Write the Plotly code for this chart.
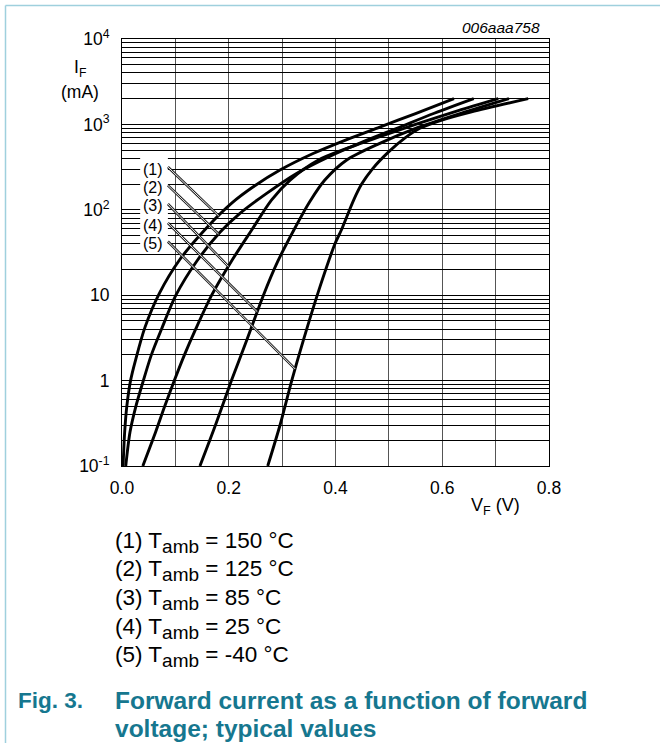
import numpy as np
import plotly.graph_objects as go

# ---------------- data ----------------
# forward voltage (V) / forward current (mA) per curve
V_150 = [0.002, 0.005, 0.009, 0.016, 0.026, 0.043, 0.070, 0.108, 0.160, 0.205, 0.246, 0.296, 0.358, 0.420, 0.483, 0.550, 0.622]
I_150 = [0.1, 0.25, 0.5, 1.0, 1.8, 4.2, 10.5, 26, 63, 119, 186, 292, 456, 660, 930, 1340, 2000]

V_125 = [0.007, 0.015, 0.026, 0.040, 0.055, 0.074, 0.101, 0.140, 0.184, 0.221, 0.271, 0.327, 0.388, 0.450, 0.515, 0.585, 0.659]
I_125 = [0.1, 0.25, 0.5, 1.0, 2.0, 4.0, 10, 25, 55, 91, 156, 267, 420, 620, 900, 1350, 2000]

V_85 = [0.039, 0.063, 0.080, 0.098, 0.117, 0.138, 0.168, 0.205, 0.243, 0.280, 0.315, 0.368, 0.420, 0.483, 0.550, 0.630, 0.705]
I_85 = [0.1, 0.25, 0.5, 1.0, 2.0, 4.0, 10, 25, 58, 130, 223, 383, 520, 718, 1000, 1450, 2000]

V_25 = [0.146, 0.175, 0.205, 0.234, 0.265, 0.292, 0.322, 0.352, 0.380, 0.421, 0.483, 0.550, 0.635, 0.725]
I_25 = [0.1, 0.3, 1.0, 3.0, 10, 25, 58, 125, 223, 383, 600, 900, 1350, 2000]

V_m40 = [0.273, 0.296, 0.318, 0.340, 0.371, 0.399, 0.411, 0.434, 0.449, 0.469, 0.500, 0.531, 0.558, 0.595, 0.655, 0.761]
I_m40 = [0.1, 0.3, 1.0, 3.0, 12.6, 40, 58, 130, 200, 300, 480, 700, 900, 1100, 1400, 2000]

curve_V = [V_150, V_125, V_85, V_25, V_m40]
curve_I = [I_150, I_125, I_85, I_25, I_m40]
curve_labels = ["(1)", "(2)", "(3)", "(4)", "(5)"]
temps = ["150", "125", "85", "25", "-40"]

# label positions (V, mA) and the current where each leader meets its curve
label_V = 0.058
label_I = [300, 183, 111, 66, 40]
leader_start_V = 0.086
leader_start_I = [317, 193, 117, 70, 42.5]
leader_end_I = [85, 52, 21.7, 6.4, 1.37]
label_box_V = [0.034, 0.086]
label_box_I = [30.4, 427]

x_tick_vals = [0.0, 0.1, 0.2, 0.3, 0.4, 0.5, 0.6, 0.7, 0.8]
x_tick_text = ["0.0", "", "0.2", "", "0.4", "", "0.6", "", "0.8"]
y_decades = [-1, 0, 1, 2, 3, 4]
y_decade_text = ["10<sup>-1</sup>", "1", "10", "10<sup>2</sup>", "10<sup>3</sup>", "10<sup>4</sup>"]

# ---------------- figure ----------------
W, H = 660, 743
L, R, T, B = 122, 111, 39, 277
PW, PH = W - L - R, H - T - B
FONT = "Liberation Sans, Arial, sans-serif"
TEAL = "#16778f"

def px(x):  # pixel x -> paper
    return (x - L) / PW

def py(y):  # pixel y -> paper
    return (H - B - y) / PH

fig = go.Figure()

for V, I in zip(curve_V, curve_I):
    fig.add_trace(go.Scatter(x=V, y=I, mode="lines",
                             line=dict(color="black", width=2.9, shape="spline", smoothing=0.8),
                             hoverinfo="skip", showlegend=False))

# leader lines (double thin line look)
for k in range(5):
    lv = np.log10(curve_I[k])
    end_V = float(np.interp(np.log10(leader_end_I[k]), lv, curve_V[k]))
    xs = [leader_start_V, end_V]
    ys = [leader_start_I[k], leader_end_I[k]]
    fig.add_trace(go.Scatter(x=xs, y=ys, mode="lines", line=dict(color="#222", width=2.6),
                             hoverinfo="skip", showlegend=False))
    fig.add_trace(go.Scatter(x=xs, y=ys, mode="lines", line=dict(color="white", width=0.9),
                             hoverinfo="skip", showlegend=False))

y_tick_vals = []
y_tick_text = []
for d, t in zip(y_decades, y_decade_text):
    y_tick_vals.append(10.0 ** d)
    y_tick_text.append(t)
    if d < 4:
        for m in range(2, 10):
            y_tick_vals.append(m * 10.0 ** d)
            y_tick_text.append("")

fig.update_xaxes(range=[0, 0.8], tickvals=x_tick_vals, ticktext=x_tick_text,
                 showgrid=True, gridcolor="#555", gridwidth=1,
                 showline=True, linecolor="black", linewidth=1, mirror=True,
                 ticks="outside", ticklen=6, tickcolor="rgba(0,0,0,0)",
                 tickfont=dict(family=FONT, size=17.5, color="black"), zeroline=False)
fig.update_yaxes(type="log", range=[-1, 4], tickvals=y_tick_vals, ticktext=y_tick_text,
                 showgrid=True, gridcolor="black", gridwidth=1,
                 showline=True, linecolor="black", linewidth=1, mirror=True,
                 ticks="outside", ticklen=8, tickcolor="rgba(0,0,0,0)",
                 tickfont=dict(family=FONT, size=17.5, color="black"), zeroline=False)

shapes = []
# white box behind curve labels (between grid and traces)
shapes.append(dict(type="rect", xref="x", yref="y", x0=label_box_V[0], x1=label_box_V[1],
                   y0=label_box_I[0], y1=label_box_I[1], fillcolor="white",
                   line=dict(width=0), layer="between"))
# light blue frame
shapes.append(dict(type="line", xref="paper", yref="paper", x0=px(5.5), x1=px(660), y0=py(5.5), y1=py(5.5),
                   line=dict(color="#9fd0dd", width=1.5)))
shapes.append(dict(type="line", xref="paper", yref="paper", x0=px(5.5), x1=px(5.5), y0=py(5.5), y1=py(743),
                   line=dict(color="#9fd0dd", width=1.5)))

ann = []
for k in range(5):
    ann.append(dict(x=label_V, y=np.log10(label_I[k]), xref="x", yref="y", text=curve_labels[k],
                    showarrow=False, font=dict(family=FONT, size=16, color="black"),
                    xanchor="center", yanchor="middle"))

ann.append(dict(x=px(541.5), y=py(28), xref="paper", yref="paper", text="<i>006aaa758</i>",
                showarrow=False, xanchor="right", yanchor="middle",
                font=dict(family=FONT, size=15.5, color="black")))
ann.append(dict(x=px(80), y=py(69), xref="paper", yref="paper", text="I<sub>F</sub>",
                showarrow=False, xanchor="center", yanchor="middle",
                font=dict(family=FONT, size=17.5, color="black")))
ann.append(dict(x=px(80), y=py(92), xref="paper", yref="paper", text="(mA)",
                showarrow=False, xanchor="center", yanchor="middle",
                font=dict(family=FONT, size=17.5, color="black")))
ann.append(dict(x=px(495.5), y=py(506), xref="paper", yref="paper", text="V<sub>F</sub> (V)",
                showarrow=False, xanchor="center", yanchor="middle",
                font=dict(family=FONT, size=18, color="black")))

for k in range(5):
    ann.append(dict(x=px(113), y=py(542 + 28.7 * k), xref="paper", yref="paper",
                    text=f"{curve_labels[k]} T<sub><span style='font-size:19px'>amb</span></sub> = {temps[k]} °C",
                    showarrow=False, xanchor="left", yanchor="middle",
                    font=dict(family=FONT, size=22.5, color="black")))

ann.append(dict(x=px(16), y=py(700), xref="paper", yref="paper", text="<b>Fig. 3.</b>",
                showarrow=False, xanchor="left", yanchor="middle",
                font=dict(family=FONT, size=22.5, color=TEAL)))
ann.append(dict(x=px(113), y=py(700), xref="paper", yref="paper",
                text="<b>Forward current as a function of forward</b>",
                showarrow=False, xanchor="left", yanchor="middle",
                font=dict(family=FONT, size=24.5, color=TEAL)))
ann.append(dict(x=px(113), y=py(728), xref="paper", yref="paper",
                text="<b>voltage; typical values</b>",
                showarrow=False, xanchor="left", yanchor="middle",
                font=dict(family=FONT, size=24.5, color=TEAL)))

fig.update_layout(width=W, height=H, margin=dict(l=L, r=R, t=T, b=B, autoexpand=False),
                  paper_bgcolor="white", plot_bgcolor="white", showlegend=False,
                  shapes=shapes, annotations=ann, font=dict(family=FONT, color="black"))

fig.write_html("out.html")
